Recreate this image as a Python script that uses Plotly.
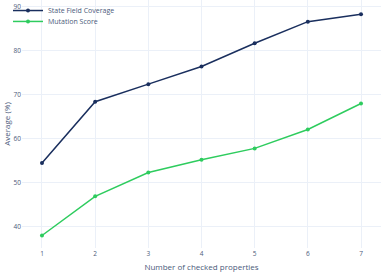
import plotly.graph_objects as go

x_vals = [1, 2, 3, 4, 5, 6, 7]
state_field_coverage = [54.5, 68.4, 72.4, 76.4, 81.7, 86.6, 88.3]
mutation_score = [38.0, 46.9, 52.3, 55.2, 57.8, 62.1, 68.0]
y_ticks = [40, 50, 60, 70, 80, 90]

fig = go.Figure()
fig.add_trace(go.Scatter(x=x_vals, y=state_field_coverage, mode="lines+markers",
                         name="State Field Coverage", legend="legend",
                         line=dict(color="#1a2f5e", width=1.5), marker=dict(size=4)))
fig.add_trace(go.Scatter(x=x_vals, y=mutation_score, mode="lines+markers",
                         name="Mutation Score", legend="legend2",
                         line=dict(color="#2ecc5e", width=1.5), marker=dict(size=4)))

leg_common = dict(xanchor="left", yanchor="top", bgcolor="rgba(255,255,255,0)",
                  font=dict(size=7, color="#4a5a7a"), borderwidth=0)

fig.update_layout(
    template="plotly_white",
    width=381, height=272,
    margin=dict(l=22, r=0, t=0, b=24, autoexpand=False),
    font=dict(family="Open Sans, Arial", size=7, color="#4a5a7a"),
    showlegend=True,
    legend=dict(x=-0.039, y=1.016, **leg_common),
    legend2=dict(x=-0.039, y=0.972, **leg_common),
    xaxis=dict(title=dict(text="Number of checked properties", font=dict(size=8), standoff=7),
               tickmode="array", tickvals=x_vals, range=[0.624, 7.376],
               tickfont=dict(size=6.5), automargin=False),
    yaxis=dict(title=dict(text="Average (%)", font=dict(size=8), standoff=1),
               tickvals=y_ticks, range=[35.16, 91.52],
               tickfont=dict(size=6.5), automargin=False),
)
fig.write_html("out.html", config={"displayModeBar": False},
               post_script="document.body.style.margin='0';")
